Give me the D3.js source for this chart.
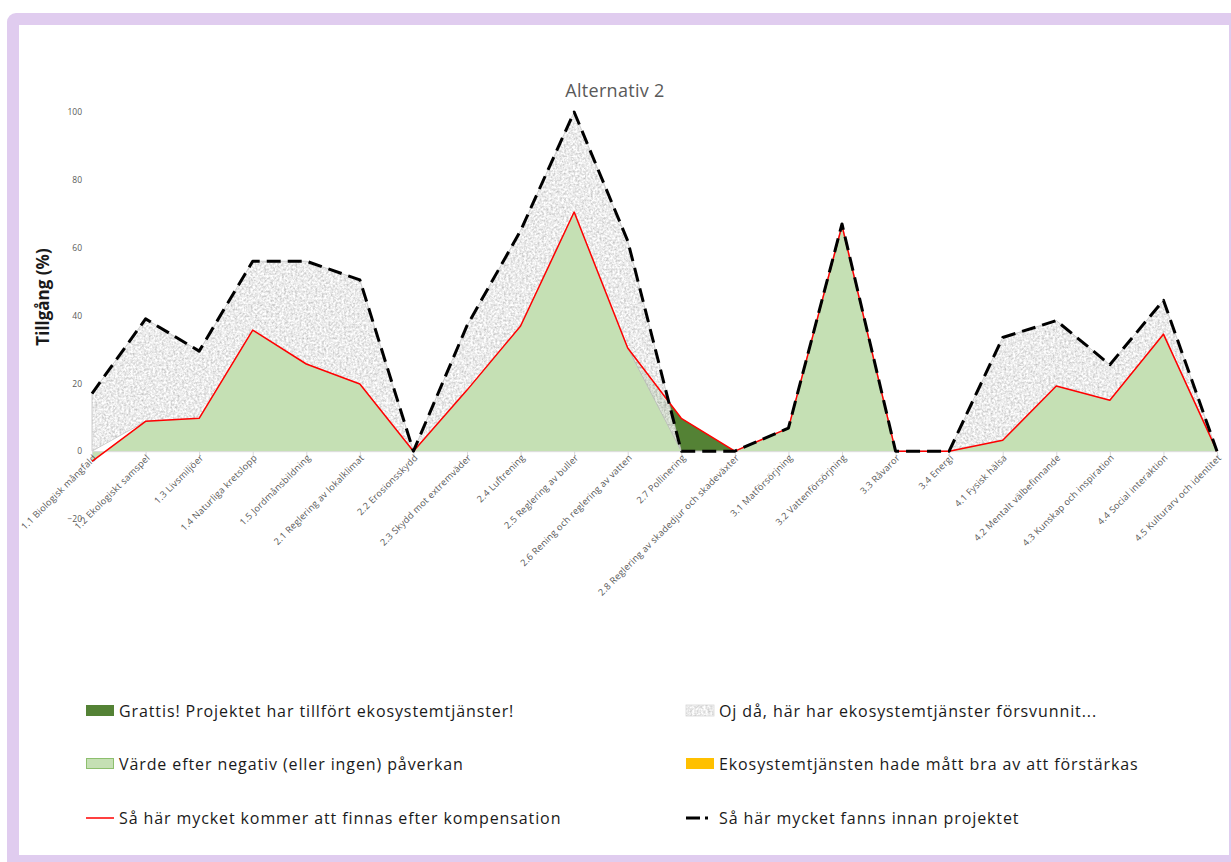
<!DOCTYPE html>
<html lang="sv">
<head>
<meta charset="utf-8">
<script src="https://cdn.jsdelivr.net/npm/d3@7"></script>
<style>
  html, body { margin: 0; padding: 0; background: #fff; }
  svg { display: block; }
</style>
</head>
<body>
<svg id="chart" width="1231" height="862"></svg>
<script>
// Ekosystemtjänster, alternativ 2
const categories = [
  "1.1 Biologisk mångfald", "1.2 Ekologiskt samspel", "1.3 Livsmiljöer",
  "1.4 Naturliga kretslopp", "1.5 Jordmånsbildning", "2.1 Reglering av lokalklimat",
  "2.2 Erosionsskydd", "2.3 Skydd mot extremväder", "2.4 Luftrening",
  "2.5 Reglering av buller", "2.6 Rening och reglering av vatten", "2.7 Pollinering",
  "2.8 Reglering av skadedjur och skadeväxter", "3.1 Matförsörjning", "3.2 Vattenförsörjning",
  "3.3 Råvaror", "3.4 Energi", "4.1 Fysisk hälsa", "4.2 Mentalt välbefinnande",
  "4.3 Kunskap och inspiration", "4.4 Social interaktion", "4.5 Kulturarv och identitet"
];

// Så här mycket fanns innan projektet
const before = [17, 39, 29.5, 56, 56, 50.5, 0, 37, 65, 100, 62, 0, 0, 6.8, 67, 0, 0, 33.5, 38.5, 25.5, 44.5, 0];
// Värde efter negativ (eller ingen) påverkan
const afterImpact = [-3, 8.8, 9.7, 35.7, 25.7, 19.8, 0, 18, 36.9, 70.5, 30.4, 0, 0, 6.8, 66.5, 0, 0, 3.2, 19.2, 15, 34.5, 0];
// Grattis! Projektet har tillfört ekosystemtjänster
const gained = [0, 0, 0, 0, 0, 0, 0, 0, 0, 0, 0, 9.7, 0, 0, 0, 0, 0, 0, 0, 0, 0, 0];
// Ekosystemtjänsten hade mått bra av att förstärkas
const strengthen = [0, 0, 0, 0, 0, 0, 0, 0, 0, 0, 0, 0, 0, 0, 0, 0, 0, 0, 0, 0, 0, 0];
// Så här mycket kommer att finnas efter kompensation
const afterCompensation = afterImpact.map((v, i) => v + gained[i]);

const yTicks = [-20, 0, 20, 40, 60, 80, 100];

const legendItems = [
  { key: "gain", label: "Grattis! Projektet har tillfört ekosystemtjänster!" },
  { key: "loss", label: "Oj då, här har ekosystemtjänster försvunnit..." },
  { key: "impact", label: "Värde efter negativ (eller ingen) påverkan" },
  { key: "strengthen", label: "Ekosystemtjänsten hade mått bra av att förstärkas" },
  { key: "after", label: "Så här mycket kommer att finnas efter kompensation" },
  { key: "before", label: "Så här mycket fanns innan projektet" }
];

const colors = {
  gain: "#548235",
  impact: "#C5E0B4",
  impactEdge: "#8DBF6E",
  strengthen: "#FFC000",
  after: "#FF0000",
  before: "#000000",
  frame: "#E0CCEF",
  text: "#595959"
};

const FONT = "'Open Sans', Lato, sans-serif";

const svg = d3.select("#chart");
const defs = svg.append("defs");

// Granite-like texture for the lost-services area
const granite = defs.append("filter")
  .attr("id", "granite")
  .attr("x", 0).attr("y", 0).attr("width", "100%").attr("height", "100%")
  .attr("filterUnits", "objectBoundingBox");
granite.append("feTurbulence")
  .attr("type", "fractalNoise").attr("baseFrequency", 0.45)
  .attr("numOctaves", 3).attr("seed", 4).attr("result", "noise");
granite.append("feColorMatrix")
  .attr("in", "noise").attr("type", "matrix")
  .attr("values", "0.9 0 0 0 0.36  0.9 0 0 0 0.36  0.9 0 0 0 0.36  0 0 0 0 1")
  .attr("result", "gray");
granite.append("feComposite")
  .attr("in", "gray").attr("in2", "SourceGraphic").attr("operator", "in");

// Frame
svg.append("rect")
  .attr("x", 7).attr("y", 13).attr("width", 1240).attr("height", 870)
  .attr("rx", 9).attr("fill", colors.frame);
svg.append("rect")
  .attr("x", 19).attr("y", 25).attr("width", 1210).attr("height", 830)
  .attr("fill", "#ffffff");

const x = d3.scalePoint().domain(categories).range([92, 1217]);
const y = d3.scaleLinear().domain([-20, 100]).range([519, 112]);

const idx = d3.range(categories.length);
const px = i => x(categories[i]);

// Title
svg.append("text")
  .attr("x", 615).attr("y", 97)
  .attr("text-anchor", "middle")
  .attr("font-family", FONT)
  .attr("font-size", 18)
  .attr("letter-spacing", 0.3)
  .attr("fill", colors.text)
  .text("Alternativ 2");

// Y axis title
svg.append("text")
  .attr("transform", "translate(49,297) rotate(-90)")
  .attr("text-anchor", "middle")
  .attr("font-family", FONT)
  .attr("font-weight", 700)
  .attr("font-size", 17)
  .attr("fill", "#1a1a1a")
  .text("Tillgång (%)");

// Y axis labels
const yAxis = svg.append("g")
  .attr("transform", "translate(86,0)")
  .call(d3.axisLeft(y).tickValues(yTicks).tickSize(0).tickPadding(4));
yAxis.select(".domain").remove();
yAxis.selectAll("text")
  .attr("font-family", FONT)
  .attr("font-size", 8.5)
  .attr("fill", colors.text);

// Areas
const impactArea = d3.area()
  .x(px).y0(y(0)).y1(i => y(afterImpact[i]));
svg.append("path")
  .datum(idx)
  .attr("d", impactArea)
  .attr("fill", colors.impact);

const gainArea = d3.area()
  .x(px).y0(i => y(afterImpact[i])).y1(i => y(afterImpact[i] + gained[i]));
svg.append("path")
  .datum(idx)
  .attr("d", gainArea)
  .attr("fill", colors.gain);

const strengthenArea = d3.area()
  .x(px).y0(i => y(afterCompensation[i])).y1(i => y(afterCompensation[i] + strengthen[i]));
svg.append("path")
  .datum(idx)
  .attr("d", strengthenArea)
  .attr("fill", colors.strengthen);

const lossArea = d3.area()
  .x(px).y0(i => y(Math.max(afterImpact[i], 0))).y1(i => y(before[i]));
svg.append("path")
  .datum(idx)
  .attr("d", lossArea)
  .attr("fill", "#ffffff")
  .attr("filter", "url(#granite)")
  .attr("opacity", 0.85);
svg.append("path")
  .datum(idx)
  .attr("d", lossArea)
  .attr("fill", "none")
  .attr("stroke", "#bdbdbd")
  .attr("stroke-width", 0.75);

// X axis at zero
const xAxis = svg.append("g")
  .attr("transform", `translate(0,${y(0)})`)
  .call(d3.axisBottom(x).tickSize(5).tickPadding(2));
xAxis.select(".domain").attr("stroke", "#d9d9d9").attr("stroke-width", 1);
xAxis.selectAll(".tick line").attr("stroke", "#d9d9d9");
xAxis.selectAll("text")
  .attr("font-family", FONT)
  .attr("font-size", 9.2)
  .attr("letter-spacing", 0.25)
  .attr("fill", colors.text)
  .attr("text-anchor", "end")
  .attr("x", -2).attr("y", 5).attr("dy", "0.35em")
  .attr("transform", "rotate(-45)");

// Lines
const afterLine = d3.line().x(px).y(i => y(afterCompensation[i]));
svg.append("path")
  .datum(idx)
  .attr("d", afterLine)
  .attr("fill", "none")
  .attr("stroke", colors.after)
  .attr("stroke-width", 1.5)
  .attr("stroke-linejoin", "round");

const beforeLine = d3.line().x(px).y(i => y(before[i]));
svg.append("path")
  .datum(idx)
  .attr("d", beforeLine)
  .attr("fill", "none")
  .attr("stroke", colors.before)
  .attr("stroke-width", 3)
  .attr("stroke-dasharray", "14,7")
  .attr("stroke-linejoin", "round");

// Legend
const legend = svg.append("g");
const colX = [86, 686];
const rowY = [711, 764, 818];
legendItems.forEach((item, k) => {
  const gx = colX[k % 2];
  const gy = rowY[Math.floor(k / 2)];
  const g = legend.append("g").attr("transform", `translate(${gx},${gy})`);
  if (item.key === "gain") {
    g.append("rect").attr("x", 0).attr("y", -6).attr("width", 28).attr("height", 11)
      .attr("fill", colors.gain);
  } else if (item.key === "impact") {
    g.append("rect").attr("x", 0.5).attr("y", -5.5).attr("width", 27).attr("height", 10)
      .attr("fill", colors.impact).attr("stroke", colors.impactEdge).attr("stroke-width", 1);
  } else if (item.key === "loss") {
    g.append("rect").attr("x", 0).attr("y", -6).attr("width", 28).attr("height", 11)
      .attr("fill", "#ffffff").attr("filter", "url(#granite)").attr("opacity", 0.85);
    g.append("rect").attr("x", 0).attr("y", -6).attr("width", 28).attr("height", 11)
      .attr("fill", "none").attr("stroke", "#d4d4d4").attr("stroke-width", 0.75);
  } else if (item.key === "strengthen") {
    g.append("rect").attr("x", 0).attr("y", -6).attr("width", 28).attr("height", 11)
      .attr("fill", colors.strengthen);
  } else if (item.key === "after") {
    g.append("line").attr("x1", 0).attr("x2", 28).attr("y1", 0).attr("y2", 0)
      .attr("stroke", colors.after).attr("stroke-width", 1.5);
  } else if (item.key === "before") {
    g.append("line").attr("x1", 0).attr("x2", 22).attr("y1", 0).attr("y2", 0)
      .attr("stroke", colors.before).attr("stroke-width", 3)
      .attr("stroke-dasharray", "14,5");
  }
  g.append("text")
    .attr("x", 33).attr("y", 0).attr("dy", "0.35em")
    .attr("font-family", FONT)
    .attr("font-size", 16)
    .attr("letter-spacing", 0.9)
    .attr("fill", "#1a1a1a")
    .text(item.label);
});
</script>
</body>
</html>
